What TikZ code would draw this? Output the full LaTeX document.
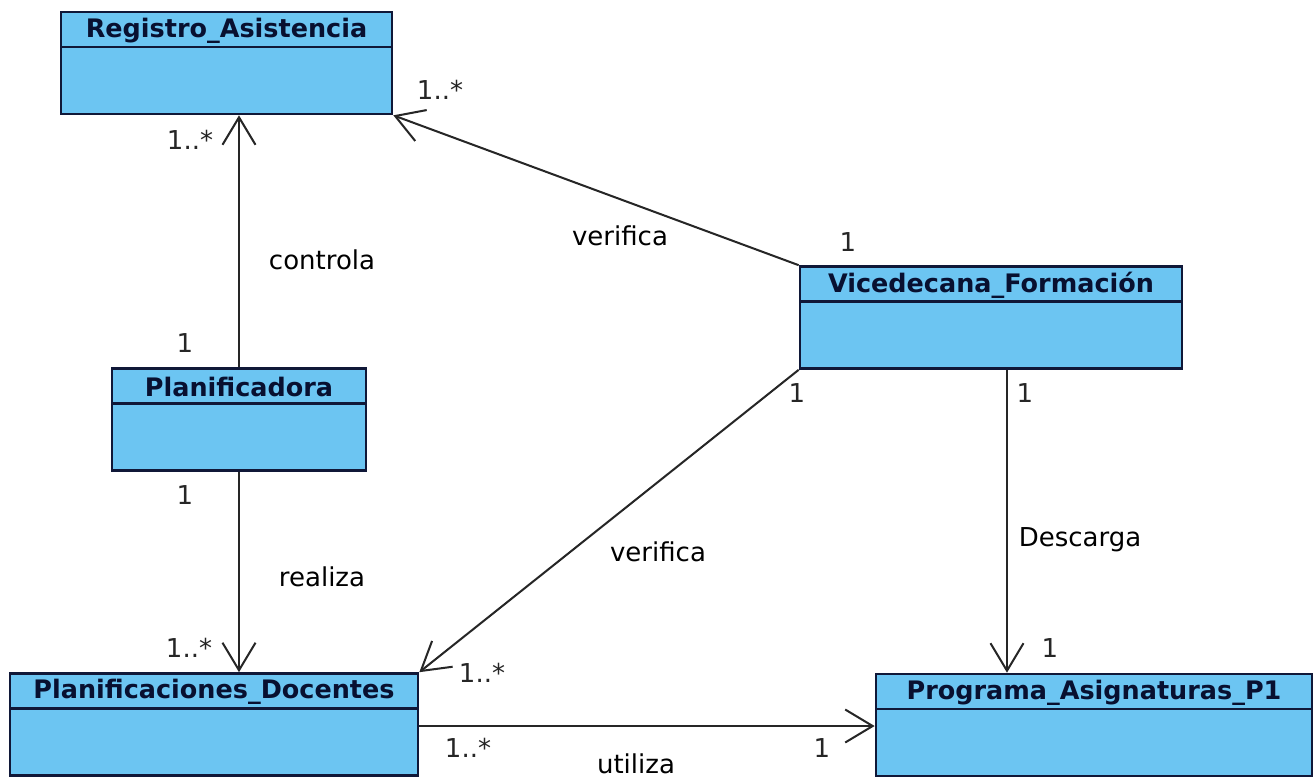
\documentclass[tikz,border=0pt]{standalone}
\usepackage{fontspec}
\setmainfont{DejaVu Sans}
\usetikzlibrary{arrows.meta}

\begin{document}
\begin{tikzpicture}[x=0.02cm, y=-0.02cm, >={Straight Barb[length=0.55cm, width=0.66cm]}, font=\fontsize{14.8}{17}\selectfont]
		\definecolor{azulclase}{RGB}{108,197,242}
		\definecolor{bordeclase}{RGB}{16,24,56}
		\definecolor{textoclase}{RGB}{8,16,48}
		\tikzset{
			clase/.style={draw=bordeclase, fill=azulclase, line width=1.5pt, minimum height=102*0.02cm, inner sep=0pt,
				path picture={\draw[bordeclase, line width=1.4pt] ([yshift=-35*0.02cm]path picture bounding box.north west) -- ([yshift=-35*0.02cm]path picture bounding box.north east);},
				label={[font=\fontsize{14.5}{17}\selectfont\bfseries, text=textoclase, anchor=center, yshift=-20*0.02cm]north:#1}},
			asoc/.style={->, line width=1.15pt, draw=black!85},
			mult/.style={text=black!85},
		}
		\useasboundingbox (0,0) rectangle (1316,779);
		
		% clases
		\node[clase={Registro\_Asistencia}, minimum width=331*0.02cm] (registro) at (226.5,63) {};
		\node[clase={Vicedecana\_Formación}, minimum width=382*0.02cm] (vicedecana) at (991,317.5) {};
		\node[clase={Planificadora}, minimum width=254*0.02cm] (planificadora) at (239,419.5) {};
		\node[clase={Planificaciones\_Docentes}, minimum width=408*0.02cm] (docentes) at (214,724.5) {};
		\node[clase={Programa\_Asignaturas\_P1}, minimum width=436*0.02cm] (programa) at (1094,725) {};
		
		% asociaciones
		\draw[asoc] (planificadora.north) -- (planificadora.north |- registro.south);
		\draw[asoc] (vicedecana.north west) -- (registro.south east);
		\draw[asoc] (planificadora.south) -- (planificadora.south |- docentes.north);
		\draw[asoc] (vicedecana.south west) -- (docentes.north east);
		\draw[asoc] ([xshift=16*0.02cm]vicedecana.south) coordinate (desc) -- (desc |- programa.north);
		\draw[asoc] ([yshift=-1.5*0.02cm]docentes.east) coordinate (util) -- (util -| programa.west);
		
		% nombres de las asociaciones
		\node (controla) at (322,260) {controla};
		\node (verifica1) at (620,236) {verifica};
		\node (realiza) at (322,577) {realiza};
		\node (verifica2) at (658,552) {verifica};
		\node (descarga) at (1080,540) {Descarga};
		\node (utiliza) at (636,764) {utiliza};
		
		% multiplicidades
		\node[mult] (m1) at (190,140) {1..*};
		\node[mult] (m2) at (185,343) {1};
		\node[mult] (m3) at (440,90) {1..*};
		\node[mult] (m4) at (848,242) {1};
		\node[mult] (m5) at (185,495) {1};
		\node[mult] (m6) at (189,648) {1..*};
		\node[mult] (m7) at (797,393) {1};
		\node[mult] (m8) at (482,673) {1..*};
		\node[mult] (m9) at (1025,393) {1};
		\node[mult] (m10) at (1050,648) {1};
		\node[mult] (m11) at (468,748) {1..*};
		\node[mult] (m12) at (822,748) {1};
	\end{tikzpicture}
\end{document}
